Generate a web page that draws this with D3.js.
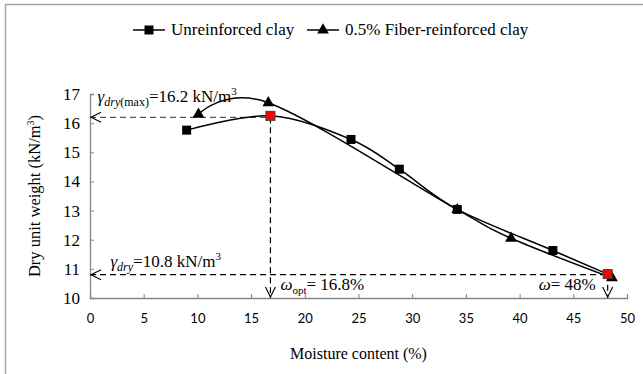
<!DOCTYPE html>
<html>
<head>
<meta charset="utf-8">
<script src="https://cdn.jsdelivr.net/npm/d3@7"></script>
<style>
  html, body { margin: 0; padding: 0; background: #fff; }
  svg { display: block; }
</style>
</head>
<body>
<div id="chart"></div>
<script>
// unreinforced clay (squares)
const moistureU = [9.0, 16.8, 24.3, 28.8, 34.2, 43.1, 48.2];
const weightU = [15.76, 16.25, 15.44, 14.42, 13.04, 11.63, 10.82];
const redU = [1, 6];

// 0.5% fiber-reinforced clay (triangles)
const moistureF = [10.1, 16.6, 34.2, 39.2, 48.6];
const weightF = [16.3, 16.7, 13.03, 12.05, 10.69];

const xTicks = [0, 5, 10, 15, 20, 25, 30, 35, 40, 45, 50];
const yTicks = [10, 11, 12, 13, 14, 15, 16, 17];

const seriesNames = ['Unreinforced clay', '0.5% Fiber-reinforced clay'];

// reference lines
const wOpt = 16.8, gMax = 16.2;
const wEnd = 48.2, gEnd = 10.8;

const W = 643, H = 374;
const mLeft = 90, mRight = 627, mTop = 94, mBottom = 298;
const serif = "'Liberation Serif', 'Times New Roman', serif";
const sans = "Lato, 'Open Sans', sans-serif";
const axisGray = '#868686';

const svg = d3.select('#chart').append('svg')
  .attr('width', W).attr('height', H);

svg.append('rect').attr('width', W).attr('height', H).attr('fill', '#fff');
// outer frame (cropped on right/bottom)
svg.append('rect')
  .attr('x', 5.5).attr('y', 4.5).attr('width', 700).attr('height', 400)
  .attr('fill', 'none').attr('stroke', '#a6a6a6').attr('stroke-width', 1.5);

const x = d3.scaleLinear().domain([0, 50]).range([mLeft, mRight]);
const y = d3.scaleLinear().domain([10, 17]).range([mBottom, mTop]);

// x axis
const gx = svg.append('g').attr('transform', `translate(0,${mBottom})`)
  .call(d3.axisBottom(x).tickValues(xTicks).tickFormat(d3.format('d'))
    .tickSize(-4).tickPadding(16));
gx.select('.domain').attr('stroke', axisGray).attr('stroke-width', 1.3);
gx.selectAll('.tick line').attr('stroke', axisGray);
gx.selectAll('.tick text').attr('font-family', sans)
  .attr('font-size', 13).attr('fill', '#000');

// y axis
const gy = svg.append('g').attr('transform', `translate(${mLeft},0)`)
  .call(d3.axisLeft(y).tickValues(yTicks).tickFormat(d3.format('d'))
    .tickSize(-4).tickPadding(10));
gy.select('.domain').attr('stroke', axisGray).attr('stroke-width', 1.3);
gy.selectAll('.tick line').attr('stroke', axisGray);
gy.selectAll('.tick text').attr('font-family', serif)
  .attr('font-size', 17).attr('fill', '#000');

// axis titles
svg.append('text')
  .attr('x', (mLeft + mRight) / 2).attr('y', 359)
  .attr('text-anchor', 'middle').attr('font-family', serif).attr('font-size', 16)
  .text('Moisture content (%)');

const yt = svg.append('text')
  .attr('transform', `translate(40,${(mTop + mBottom) / 2}) rotate(-90)`)
  .attr('text-anchor', 'middle').attr('font-family', serif).attr('font-size', 16.5);
yt.append('tspan').text('Dry unit weight (kN/m');
yt.append('tspan').attr('font-size', 10).attr('dy', -6).text('3');
yt.append('tspan').attr('dy', 6).text(')');

// dashed reference lines
const dash = '6,4';
svg.append('line')
  .attr('x1', x(0)).attr('x2', x(wOpt)).attr('y1', y(gMax)).attr('y2', y(gMax))
  .attr('stroke', '#555').attr('stroke-width', 1.2).attr('stroke-dasharray', dash);
svg.append('line')
  .attr('x1', x(wOpt)).attr('x2', x(wOpt)).attr('y1', y(gMax)).attr('y2', y(10))
  .attr('stroke', '#000').attr('stroke-width', 1.2).attr('stroke-dasharray', dash);
svg.append('line')
  .attr('x1', x(0)).attr('x2', x(wEnd)).attr('y1', y(gEnd)).attr('y2', y(gEnd))
  .attr('stroke', '#000').attr('stroke-width', 1.2).attr('stroke-dasharray', dash);
svg.append('line')
  .attr('x1', x(wEnd)).attr('x2', x(wEnd)).attr('y1', y(gEnd)).attr('y2', y(10))
  .attr('stroke', '#000').attr('stroke-width', 1.2).attr('stroke-dasharray', dash);

// open arrow heads
const arrow = (px, py, dir) => {
  const a = 10, b = 5;
  const d = dir === 'left'
    ? `M${px + a},${py - b}L${px},${py}L${px + a},${py + b}`
    : `M${px - b},${py - a}L${px},${py}L${px + b},${py - a}`;
  svg.append('path').attr('d', d).attr('fill', 'none')
    .attr('stroke', '#000').attr('stroke-width', 1.1);
};
arrow(x(0) + 1, y(gMax), 'left');
arrow(x(0) + 1, y(gEnd), 'left');
arrow(x(wOpt), y(10) - 1, 'down');
arrow(x(wEnd), y(10) - 1, 'down');

// smoothed lines, Excel-like (uniform Catmull-Rom)
const line = d3.line().curve(d3.curveCardinal.tension(0))
  .x(d => x(d[0])).y(d => y(d[1]));
const ptsU = moistureU.map((m, i) => [m, weightU[i]]);
const ptsF = moistureF.map((m, i) => [m, weightF[i]]);

svg.append('path').attr('d', line(ptsF)).attr('fill', 'none')
  .attr('stroke', '#000').attr('stroke-width', 1.5);
svg.append('path').attr('d', line(ptsU)).attr('fill', 'none')
  .attr('stroke', '#000').attr('stroke-width', 1.5);

const tri = d3.symbol().type(d3.symbolTriangle).size(60);
svg.selectAll('.tri').data(ptsF).enter().append('path')
  .attr('class', 'tri')
  .attr('transform', d => `translate(${x(d[0])},${y(d[1])})`)
  .attr('d', tri).attr('fill', '#000');

const sq = 9;
svg.selectAll('.sq').data(ptsU).enter().append('rect')
  .attr('class', 'sq')
  .attr('x', d => x(d[0]) - sq / 2).attr('y', d => y(d[1]) - sq / 2)
  .attr('width', sq).attr('height', sq)
  .attr('fill', (d, i) => redU.includes(i) ? '#ff0000' : '#000')
  .attr('stroke', (d, i) => redU.includes(i) ? '#404040' : 'none')
  .attr('stroke-width', 1);

// annotations
const t1 = svg.append('text').attr('x', x(0.7)).attr('y', y(gMax) - 15)
  .attr('font-family', serif).attr('font-size', 17);
t1.append('tspan').attr('font-style', 'italic').text('γ');
t1.append('tspan').attr('font-style', 'italic').attr('font-size', 12).attr('dy', 4).text('dry');
t1.append('tspan').attr('font-size', 12).text('(max)');
t1.append('tspan').attr('dy', -4).text('=16.2 kN/m');
t1.append('tspan').attr('font-size', 11).attr('dy', -7).text('3');

const t2 = svg.append('text').attr('x', x(1.9)).attr('y', y(gEnd) - 8)
  .attr('font-family', serif).attr('font-size', 17);
t2.append('tspan').attr('font-style', 'italic').text('γ');
t2.append('tspan').attr('font-style', 'italic').attr('font-size', 12).attr('dy', 4).text('dry');
t2.append('tspan').attr('dy', -4).text('=10.8 kN/m');
t2.append('tspan').attr('font-size', 11).attr('dy', -7).text('3');

const t3 = svg.append('text').attr('x', x(wOpt) + 10).attr('y', y(10) - 8)
  .attr('font-family', serif).attr('font-size', 17);
t3.append('tspan').attr('font-style', 'italic').text('ω');
t3.append('tspan').attr('font-size', 11).attr('dy', 4).text('opt');
t3.append('tspan').attr('dy', -4).text('= 16.8%');

const t4 = svg.append('text').attr('x', x(wEnd) - 12).attr('y', y(10) - 8)
  .attr('text-anchor', 'end').attr('font-family', serif).attr('font-size', 17);
t4.append('tspan').attr('font-style', 'italic').text('ω');
t4.append('tspan').text('= 48%');

// legend
const legY = 30;
const leg = [
  { x0: 133, type: 'sq', name: seriesNames[0] },
  { x0: 307, type: 'tri', name: seriesNames[1] }
];
leg.forEach(l => {
  svg.append('line').attr('x1', l.x0).attr('x2', l.x0 + 32)
    .attr('y1', legY).attr('y2', legY).attr('stroke', '#000').attr('stroke-width', 1.5);
  if (l.type === 'sq') {
    svg.append('rect').attr('x', l.x0 + 16 - sq / 2).attr('y', legY - sq / 2)
      .attr('width', sq).attr('height', sq).attr('fill', '#000');
  } else {
    svg.append('path').attr('transform', `translate(${l.x0 + 16},${legY})`)
      .attr('d', tri).attr('fill', '#000');
  }
  svg.append('text').attr('x', l.x0 + 38).attr('y', legY + 5)
    .attr('font-family', serif).attr('font-size', 17).text(l.name);
});
</script>
</body>
</html>
